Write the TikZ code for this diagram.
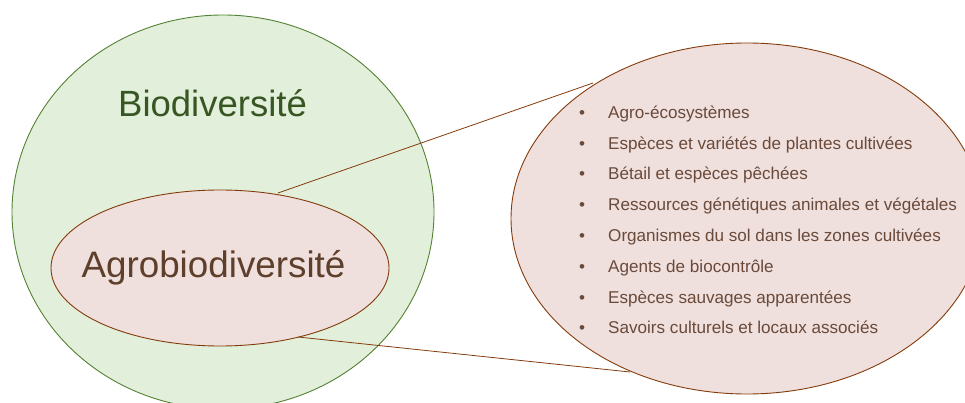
\documentclass[tikz,border=0pt]{standalone}
\usepackage{fontspec}
\setmainfont{Liberation Sans}
\usetikzlibrary{shapes.geometric}
\definecolor{gfill}{HTML}{E2EFDA}
\definecolor{gline}{HTML}{548235}
\definecolor{gtext}{HTML}{375623}
\definecolor{pfill}{HTML}{EFDFDD}
\definecolor{bline}{HTML}{843C0C}
\definecolor{btext}{HTML}{5E3F2B}
\definecolor{ltext}{HTML}{6A4A3A}
\tikzset{
  blob/.style={ellipse, inner sep=0pt, line width=0.9pt},
  connector/.style={draw=bline, line width=0.8pt},
  itemtext/.style={anchor=base west, inner sep=0pt, text=ltext, font=\fontsize{17.1}{20}\selectfont},
  bullettext/.style={anchor=base, inner sep=0pt, text=ltext, font=\fontsize{17.1}{20}\selectfont}
}
\begin{document}
\begin{tikzpicture}[x=1pt,y=-1pt]
\useasboundingbox (0,0) rectangle (965,403);
\clip (0,0) rectangle (965,403);
\node[blob, draw=gline, fill=gfill, minimum width=422pt, minimum height=394pt] (bio) at (223,212) {};
\node[anchor=base, inner sep=0pt, text=gtext, font=\fontsize{36.5}{40}\selectfont] (biolabel) at (212.5,117) {Biodiversité};
\node[blob, draw=bline, fill=pfill, minimum width=338pt, minimum height=156pt] (agro) at (220,268) {};
\node[anchor=base, inner sep=0pt, text=btext, font=\fontsize{36.8}{40}\selectfont] (agrolabel) at (213.5,277) {Agrobiodiversité};
\coordinate (a1) at (278,193);
\coordinate (a2) at (298,337);
\coordinate (b1) at (593,83);
\coordinate (b2) at (630,372);
\draw[connector] (a1) -- (b1);
\draw[connector] (a2) -- (b2);
\node[blob, draw=bline, fill=pfill, minimum width=472pt, minimum height=351pt] (list) at (747,218.5) {};
\foreach \t [count=\i from 0] in {Agro-écosystèmes,Espèces et variétés de plantes cultivées,Bétail et espèces pêchées,Ressources génétiques animales et végétales,Organismes du sol dans les zones cultivées,Agents de biocontrôle,Espèces sauvages apparentées,Savoirs culturels et locaux associés}{
  \node[bullettext] (bul\i) at (582,118.3+30.8*\i) {•};
  \node[itemtext] (item\i) at (608,118.3+30.8*\i) {\t};
}
\end{tikzpicture}
\end{document}
